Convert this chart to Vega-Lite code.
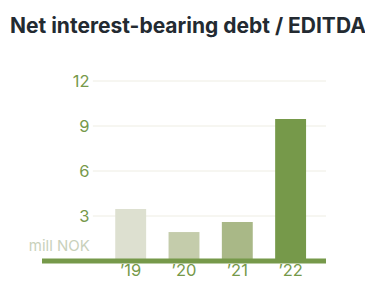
{
  "$schema": "https://vega.github.io/schema/vega-lite/v6.json",
  "autosize": "none",
  "width": 284,
  "height": 180,
  "padding": {"left": 42, "top": 81, "right": 39, "bottom": 25},
  "background": "white",
  "title": {
    "text": "Net interest-bearing debt / EDITDA",
    "anchor": "start",
    "frame": "group",
    "font": "Inter",
    "fontSize": 21,
    "fontWeight": 700,
    "color": "#232a31",
    "dx": -32,
    "offset": 19,
    "baseline": "alphabetic"
  },
  "config": {
    "view": {"stroke": null},
    "font": "Inter"
  },
  "data": {
    "values": [
      {"year": "’19", "value": 3.47},
      {"year": "’20", "value": 1.93},
      {"year": "’21", "value": 2.6},
      {"year": "’22", "value": 9.47}
    ]
  },
  "layer": [
    {
      "data": {"values": [{"v": 3}, {"v": 6}, {"v": 9}, {"v": 12}]},
      "mark": {"type": "rule", "color": "#eeede3", "strokeWidth": 1},
      "encoding": {
        "y": {"field": "v", "type": "quantitative"},
        "x": {"datum": "_", "bandPosition": 1},
        "x2": {"value": "width"}
      }
    },
    {
      "mark": {"type": "bar"},
      "encoding": {
        "x": {
          "field": "year",
          "type": "nominal",
          "scale": {"domain": ["_", "’19", "’20", "’21", "’22"], "paddingInner": 0.42, "paddingOuter": 0.374},
          "axis": {
            "title": null,
            "domain": false,
            "ticks": false,
            "labelAngle": 0,
            "labelAlign": "center",
            "labelBound": false,
            "labelPadding": 9,
            "labelFontSize": 16.5,
            "labelColor": "#76994a",
            "labelExpr": "datum.value == '_' ? '' : datum.label"
          }
        },
        "y": {
          "field": "value",
          "type": "quantitative",
          "scale": {"domain": [0, 12], "nice": false},
          "axis": {
            "title": null,
            "values": [3, 6, 9, 12],
            "grid": false,
            "domain": false,
            "ticks": false,
            "offset": -54,
            "labelPadding": 7,
            "labelFontSize": 16.5,
            "labelColor": "#76994a"
          }
        },
        "color": {
          "field": "year",
          "type": "nominal",
          "scale": {"domain": ["’19", "’20", "’21", "’22"], "range": ["#dde0d0", "#c4ccab", "#a9b887", "#76994a"]},
          "legend": null
        }
      }
    },
    {
      "data": {"values": [{"v": 0}]},
      "mark": {"type": "rule", "color": "#76994a", "strokeWidth": 5},
      "encoding": {
        "y": {"field": "v", "type": "quantitative"}
      }
    },
    {
      "data": {"values": [{"label": "mill NOK"}]},
      "mark": {"type": "text", "align": "right", "baseline": "middle", "dx": -3, "dy": -15, "fontSize": 15, "color": "#c9d1bb"},
      "encoding": {
        "x": {"datum": "_", "bandPosition": 1},
        "y": {"datum": 0},
        "text": {"field": "label"}
      }
    }
  ]
}
